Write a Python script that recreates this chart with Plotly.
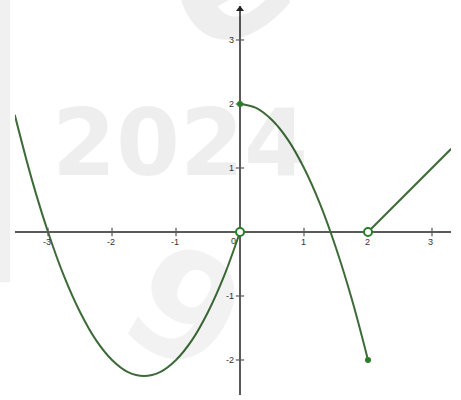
import plotly.graph_objects as go

# piece 1: open end at the origin
left_x = [-3.52, -3.25, -3.0, -2.75, -2.5, -2.25, -2.0, -1.75, -1.5, -1.25, -1.0, -0.75, -0.5, -0.25, 0.0]
left_y = [1.83, 0.81, 0.0, -0.69, -1.25, -1.69, -2.0, -2.19, -2.25, -2.19, -2.0, -1.69, -1.25, -0.69, 0.0]

# piece 2: closed ends (0,2) and (2,-2)
mid_x = [0.0, 0.25, 0.5, 0.75, 1.0, 1.25, 1.5, 1.75, 2.0]
mid_y = [2.0, 1.94, 1.75, 1.44, 1.0, 0.44, -0.25, -1.06, -2.0]

# piece 3: open start at (2,0)
right_x = [2.0, 3.3]
right_y = [0.0, 1.3]

open_x = [0.0, 2.0]
open_y = [0.0, 0.0]
closed_x = [0.0, 2.0]
closed_y = [2.0, -2.0]

x_ticks = [-3, -2, -1, 1, 2, 3]
y_ticks = [-2, -1, 1, 2, 3]

x_range = [-3.516, 3.297]
y_range = [-2.547, 3.531]

curve_col = "#3d6b38"
dot_col = "#2c7d2a"
axis_col = "#5a5a5a"

fig = go.Figure()

for xs, ys in [(left_x, left_y), (mid_x, mid_y), (right_x, right_y)]:
    fig.add_trace(go.Scatter(x=xs, y=ys, mode="lines",
                             line=dict(color=curve_col, width=2, shape="spline"),
                             hoverinfo="skip"))

# tick marks
fig.add_trace(go.Scatter(x=x_ticks, y=[0] * len(x_ticks), mode="markers",
                         marker=dict(symbol="line-ns", size=6,
                                     line=dict(color=axis_col, width=1.2)),
                         hoverinfo="skip"))
fig.add_trace(go.Scatter(x=[0] * len(y_ticks), y=y_ticks, mode="markers",
                         marker=dict(symbol="line-ew", size=6,
                                     line=dict(color=axis_col, width=1.2)),
                         hoverinfo="skip"))

# arrow on the y axis
fig.add_trace(go.Scatter(x=[0], y=[y_range[1] - 0.05], mode="markers",
                         marker=dict(symbol="triangle-up", size=7, color="#222"),
                         cliponaxis=False, hoverinfo="skip"))

fig.add_trace(go.Scatter(x=closed_x, y=closed_y, mode="markers",
                         marker=dict(size=6, color=dot_col),
                         hoverinfo="skip"))
fig.add_trace(go.Scatter(x=open_x, y=open_y, mode="markers",
                         marker=dict(size=8, color="white",
                                     line=dict(color=dot_col, width=2)),
                         cliponaxis=False, hoverinfo="skip"))

tick_font = dict(family="Liberation Sans", size=9, color="#333")
annots = []
for t in x_ticks:
    annots.append(dict(x=t, y=0, xref="x", yref="y", text=str(t), showarrow=False,
                       font=tick_font, yshift=-10, xshift=-1))
for t in y_ticks:
    annots.append(dict(x=0, y=t, xref="x", yref="y", text=str(t), showarrow=False,
                       font=tick_font, xanchor="right", xshift=-4))
annots.append(dict(x=0, y=0, xref="x", yref="y", text="0", showarrow=False,
                   font=tick_font, xanchor="right", xshift=-2, yshift=-9))

# faint watermark
wm = "rgba(0,0,0,0.065)"
annots.append(dict(x=-0.94, y=1.39, xref="x", yref="y", text="2024", showarrow=False,
                   font=dict(family="DejaVu Sans", size=92, color=wm, weight="bold")))
annots.append(dict(x=-0.86, y=-1.2, xref="x", yref="y", text="9", showarrow=False,
                   textangle=30,
                   font=dict(family="DejaVu Sans", size=150, color="rgba(0,0,0,0.05)",
                             weight="bold")))
annots.append(dict(x=-0.25, y=1.07, xref="x", yref="paper", text="e", showarrow=False,
                   textangle=-30, xanchor="center", yanchor="middle",
                   font=dict(family="DejaVu Sans", size=170, color=wm, weight="bold")))

fig.update_layout(
    width=461, height=400,
    margin=dict(l=15, r=10, t=6, b=5),
    paper_bgcolor="white", plot_bgcolor="white",
    showlegend=False,
    annotations=annots,
    shapes=[dict(type="rect", xref="paper", yref="paper", x0=-0.0344, x1=-0.011,
                 y0=0.29, y1=1.02, fillcolor="rgba(0,0,0,0.06)", line_width=0,
                 layer="below")],
)
fig.update_xaxes(range=x_range, showgrid=False, showticklabels=False, ticks="",
                 zeroline=True, zerolinecolor=axis_col, zerolinewidth=1.5,
                 fixedrange=True)
fig.update_yaxes(range=y_range, showgrid=False, showticklabels=False, ticks="",
                 zeroline=True, zerolinecolor=axis_col, zerolinewidth=1.5,
                 fixedrange=True)

fig.write_html("out.html", config={"displayModeBar": False},
               post_script="document.body.style.margin='0';")
